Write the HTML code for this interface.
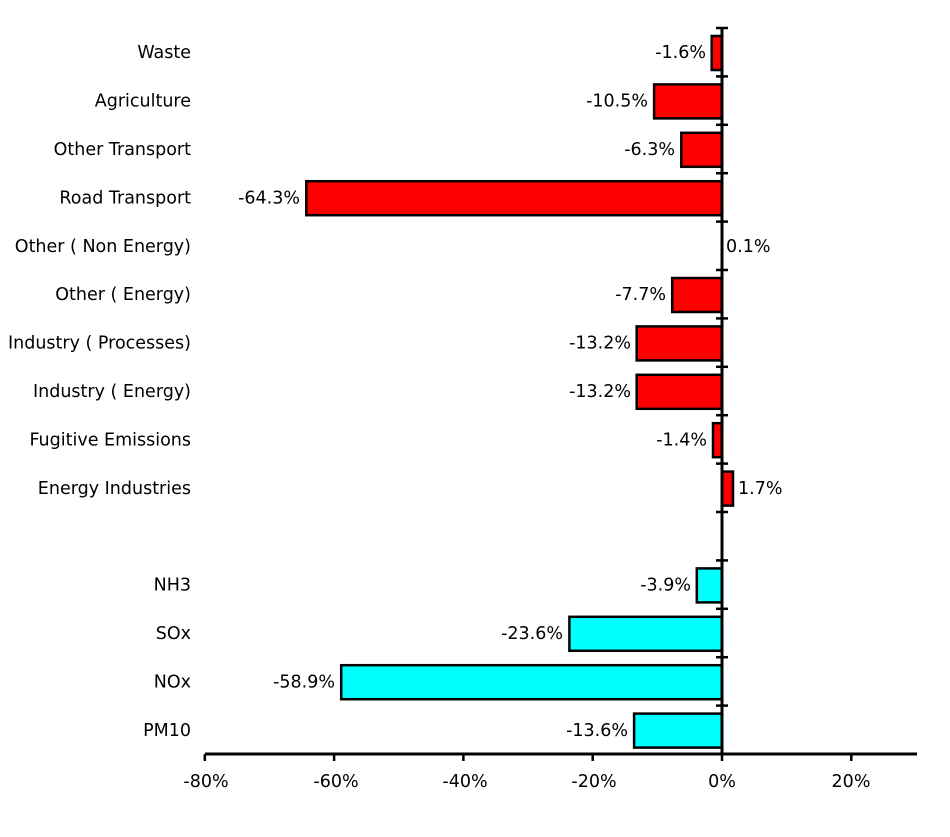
<!DOCTYPE html>
<html><head><meta charset="utf-8"><style>
html,body{margin:0;padding:0;background:#fff;}
text{font-family:"DejaVu Sans","Liberation Sans",sans-serif;font-size:17.5px;fill:#000;}
</style></head><body>
<svg width="950" height="832" xmlns="http://www.w3.org/2000/svg">
<g stroke="#000" stroke-width="2.5">
<rect x="711.7" y="36" width="10.3" height="34" fill="#ff0000"/>
<rect x="654.1" y="84.4" width="67.9" height="34" fill="#ff0000"/>
<rect x="681.3" y="132.8" width="40.7" height="34" fill="#ff0000"/>
<rect x="306.3" y="181.2" width="415.7" height="34" fill="#ff0000"/>
<rect x="672.2" y="278" width="49.8" height="34" fill="#ff0000"/>
<rect x="636.7" y="326.4" width="85.3" height="34" fill="#ff0000"/>
<rect x="636.7" y="374.8" width="85.3" height="34" fill="#ff0000"/>
<rect x="713" y="423.2" width="9" height="34" fill="#ff0000"/>
<rect x="722" y="471.6" width="11" height="34" fill="#ff0000"/>
<rect x="696.8" y="568.4" width="25.2" height="34" fill="#00ffff"/>
<rect x="569.4" y="616.8" width="152.6" height="34" fill="#00ffff"/>
<rect x="341.2" y="665.2" width="380.8" height="34" fill="#00ffff"/>
<rect x="634.1" y="713.6" width="87.9" height="34" fill="#00ffff"/>
<line x1="716" x2="728" y1="28" y2="28"/>
<line x1="716" x2="728" y1="76.4" y2="76.4"/>
<line x1="716" x2="728" y1="124.8" y2="124.8"/>
<line x1="716" x2="728" y1="173.2" y2="173.2"/>
<line x1="716" x2="728" y1="221.6" y2="221.6"/>
<line x1="716" x2="728" y1="270" y2="270"/>
<line x1="716" x2="728" y1="318.4" y2="318.4"/>
<line x1="716" x2="728" y1="366.8" y2="366.8"/>
<line x1="716" x2="728" y1="415.2" y2="415.2"/>
<line x1="716" x2="728" y1="463.6" y2="463.6"/>
<line x1="716" x2="728" y1="512" y2="512"/>
<line x1="716" x2="728" y1="560.4" y2="560.4"/>
<line x1="716" x2="728" y1="608.8" y2="608.8"/>
<line x1="716" x2="728" y1="657.2" y2="657.2"/>
<line x1="716" x2="728" y1="705.6" y2="705.6"/>
<line x1="204.8" x2="204.8" y1="754" y2="761"/>
<line x1="334.1" x2="334.1" y1="754" y2="761"/>
<line x1="463.4" x2="463.4" y1="754" y2="761"/>
<line x1="592.7" x2="592.7" y1="754" y2="761"/>
<line x1="722" x2="722" y1="754" y2="761"/>
<line x1="851.3" x2="851.3" y1="754" y2="761"/>
<line x1="722" x2="722" y1="27" y2="755" stroke-width="3"/>
<line x1="205" x2="917" y1="754" y2="754" stroke-width="3"/>
</g>
<g text-anchor="end">
<text x="191" y="58.2">Waste</text>
<text x="191" y="106.6">Agriculture</text>
<text x="191" y="155">Other Transport</text>
<text x="191" y="203.4">Road Transport</text>
<text x="191" y="251.8">Other ( Non Energy)</text>
<text x="191" y="300.2">Other ( Energy)</text>
<text x="191" y="348.6">Industry ( Processes)</text>
<text x="191" y="397">Industry ( Energy)</text>
<text x="191" y="445.4">Fugitive Emissions</text>
<text x="191" y="493.8">Energy Industries</text>
<text x="191" y="590.6">NH3</text>
<text x="191" y="639">SOx</text>
<text x="191" y="687.4">NOx</text>
<text x="191" y="735.8">PM10</text>
<text x="706" y="58.2">-1.6%</text>
<text x="648" y="106.6">-10.5%</text>
<text x="675" y="155">-6.3%</text>
<text x="300" y="203.4">-64.3%</text>
<text x="666" y="300.2">-7.7%</text>
<text x="631" y="348.6">-13.2%</text>
<text x="631" y="397">-13.2%</text>
<text x="707" y="445.4">-1.4%</text>
<text x="691" y="590.6">-3.9%</text>
<text x="563" y="639">-23.6%</text>
<text x="335" y="687.4">-58.9%</text>
<text x="628" y="735.8">-13.6%</text>
</g>
<text x="726" y="251.8">0.1%</text>
<text x="738" y="493.8">1.7%</text>
<g text-anchor="middle">
<text x="206" y="787">-80%</text>
<text x="336" y="787">-60%</text>
<text x="465" y="787">-40%</text>
<text x="594" y="787">-20%</text>
<text x="722" y="787">0%</text>
<text x="851" y="787">20%</text>
</g>
</svg>
</body></html>
